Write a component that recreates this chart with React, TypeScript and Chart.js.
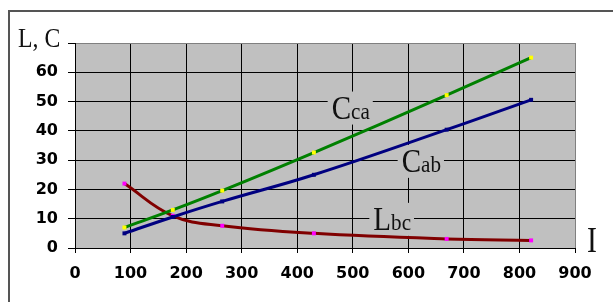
import React, { useEffect, useRef } from "react";
import { Chart, registerables } from "chart.js";

Chart.register(...registerables);

// Current I (x values)
const CURRENT_I = [89, 176, 265, 430, 669, 821];
// Series values
const C_CA = [7.0, 13.0, 19.6, 32.6, 52.2, 65.0];
const C_AB = [5.0, 10.6, 15.9, 25.0, 40.4, 50.6];
const L_BC = [22.0, 11.0, 7.6, 5.0, 3.1, 2.6];

// Axis ranges / ticks
const X_MIN = 0;
const X_MAX = 900;
const X_STEP = 100;
const Y_MIN = 0;
const Y_MAX = 70;
const Y_STEP = 10;

const Y_TITLE = "L, C";
const X_TITLE = "I";

const SERIF = "'Liberation Serif', 'Times New Roman', serif";

function measureScaled(ctx: CanvasRenderingContext2D, text: string, size: number, sx: number) {
  ctx.save();
  ctx.font = `${size}px ${SERIF}`;
  const w = ctx.measureText(text).width * sx;
  ctx.restore();
  return w;
}

function drawScaledText(ctx: CanvasRenderingContext2D, text: string, x: number, y: number, size: number, sx: number) {
  ctx.save();
  ctx.font = `${size}px ${SERIF}`;
  ctx.translate(x, y);
  ctx.scale(sx, 1);
  ctx.fillText(text, 0, 0);
  ctx.restore();
  return measureScaled(ctx, text, size, sx);
}

function drawSubLabel(
  ctx: CanvasRenderingContext2D,
  x: number,
  y: number,
  main: string,
  sub: string
) {
  const MAIN = 33;
  const SUB = 24;
  const SX = 0.88;
  const mw = measureScaled(ctx, main, MAIN, SX);
  const sw = measureScaled(ctx, sub, SUB, SX);
  ctx.save();
  ctx.fillStyle = "#c0c0c0";
  ctx.fillRect(x - 4, y - 27, mw + sw + 7, 33);
  ctx.fillStyle = "#111";
  ctx.textBaseline = "alphabetic";
  ctx.textAlign = "left";
  drawScaledText(ctx, main, x, y, MAIN, SX);
  drawScaledText(ctx, sub, x + mw, y, SUB, SX);
  ctx.restore();
}

export default function App() {
  const ref = useRef<HTMLCanvasElement>(null);

  useEffect(() => {
    const canvas = ref.current;
    if (!canvas) return;
    const pts = (ys: number[]) => CURRENT_I.map((x, i) => ({ x, y: ys[i] }));

    const decor = {
      id: "decor",
      beforeDraw(chart: any) {
        const { ctx, chartArea: a, width, height } = chart;
        ctx.save();
        ctx.fillStyle = "#ffffff";
        ctx.fillRect(0, 0, width, height);
        ctx.strokeStyle = "#555555";
        ctx.lineWidth = 2;
        ctx.beginPath();
        ctx.moveTo(9, height);
        ctx.lineTo(9, 11);
        ctx.lineTo(width, 11);
        ctx.stroke();
        ctx.fillStyle = "#c0c0c0";
        ctx.fillRect(a.left, a.top, a.right - a.left, a.bottom - a.top);
        ctx.restore();
      },
      beforeDatasetsDraw(chart: any) {
        const { ctx } = chart;
        const xs = chart.scales.x;
        const ys = chart.scales.y;
        drawSubLabel(ctx, xs.getPixelForValue(462), ys.getPixelForValue(44.2), "C", "ca");
        drawSubLabel(ctx, xs.getPixelForValue(588), ys.getPixelForValue(26.0), "C", "ab");
        drawSubLabel(ctx, xs.getPixelForValue(537), ys.getPixelForValue(6.2), "L", "bc");
      },
      afterDraw(chart: any) {
        const { ctx, chartArea: a } = chart;
        ctx.save();
        ctx.fillStyle = "#111";
        ctx.textBaseline = "alphabetic";
        ctx.textAlign = "left";
        drawScaledText(ctx, Y_TITLE, 18, a.top + 4, 27, 0.88);
        drawScaledText(ctx, X_TITLE, a.right + 12, a.bottom + 4, 35, 0.85);
        ctx.restore();
      },
    };

    const chart = new Chart(canvas, {
      type: "line",
      data: {
        datasets: [
          {
            label: "Cca",
            data: pts(C_CA),
            borderColor: "#008000",
            backgroundColor: "#ffff00",
            borderWidth: 3,
            pointStyle: "rect",
            pointRadius: 2.8,
            pointBorderWidth: 0,
            pointBackgroundColor: "#ffff00",
            tension: 0.4,
          },
          {
            label: "Cab",
            data: pts(C_AB),
            borderColor: "#000080",
            backgroundColor: "#000080",
            borderWidth: 3,
            pointStyle: "rect",
            pointRadius: 2.8,
            pointBorderWidth: 0,
            pointBackgroundColor: "#000080",
            tension: 0.4,
          },
          {
            label: "Lbc",
            data: pts(L_BC),
            borderColor: "#800000",
            backgroundColor: "#ff00ff",
            borderWidth: 3,
            pointStyle: "rect",
            pointRadius: 2.8,
            pointBorderWidth: 0,
            pointBackgroundColor: "#ff00ff",
            tension: 0.4,
          },
        ],
      },
      options: {
        animation: false,
        responsive: false,
        devicePixelRatio: 1,
        layout: { padding: { top: 43, right: 38, left: 0, bottom: 0 } },
        plugins: {
          legend: { display: false },
          tooltip: { enabled: false },
        },
        scales: {
          x: {
            type: "linear",
            min: X_MIN,
            max: X_MAX,
            afterFit: (s: any) => {
              s.height = 54;
            },
            ticks: {
              stepSize: X_STEP,
              color: "#000",
              padding: 11,
              maxRotation: 0,
              font: { family: "'DejaVu Sans', sans-serif", size: 16, weight: "bold" },
            },
            grid: {
              color: (c: any) => (c.tick && c.tick.value === X_MAX ? "#808080" : "#000"),
              tickColor: "#000",
              tickLength: 5,
              lineWidth: 1,
            },
            border: { color: "#000", width: 1 },
          },
          y: {
            min: Y_MIN,
            max: Y_MAX,
            afterFit: (s: any) => {
              s.width = 75;
            },
            ticks: {
              stepSize: Y_STEP,
              color: "#000",
              padding: 10,
              callback: (v: any) => (v === Y_MAX ? "" : String(v)),
              font: { family: "'DejaVu Sans', sans-serif", size: 16, weight: "bold" },
            },
            grid: {
              color: (c: any) => (c.tick && c.tick.value === Y_MAX ? "#808080" : "#000"),
              tickColor: "#000",
              tickLength: 7,
              lineWidth: 1,
            },
            border: { color: "#000", width: 1 },
          },
        },
      },
      plugins: [decor],
    });

    return () => chart.destroy();
  }, []);

  return (
    <div style={{ position: "fixed", left: 0, top: 0, width: 613, height: 302, background: "#fff" }}>
      <canvas ref={ref} width={613} height={302} style={{ display: "block" }} />
    </div>
  );
}
